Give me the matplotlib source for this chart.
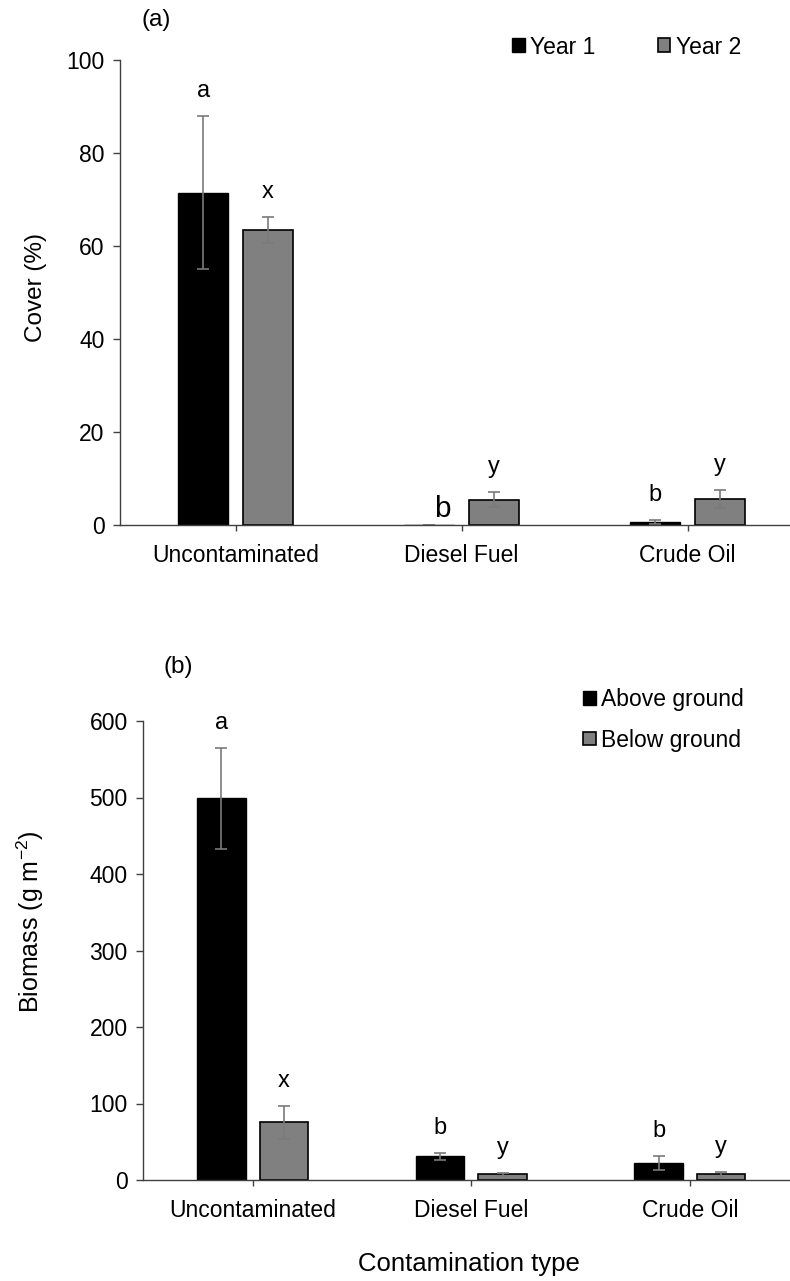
import numpy as np
import matplotlib
matplotlib.use("Agg")
import matplotlib.pyplot as plt

plt.rcParams['font.family'] = ['Liberation Sans', 'DejaVu Sans']
plt.rcParams['mathtext.fontset'] = 'custom'
plt.rcParams['mathtext.rm'] = 'Liberation Sans'
plt.rcParams['mathtext.it'] = 'Liberation Sans:italic'

categories = ['Uncontaminated', 'Diesel Fuel', 'Crude Oil']

# panel (a) cover %
cover_y1 = [71.5, 0.1, 0.7]
cover_y1_err = [16.5, 0.0, 0.4]
cover_y2 = [63.4, 5.4, 5.6]
cover_y2_err = [2.8, 1.6, 2.0]
cover_y1_letters = ['a', 'b', 'b']
cover_y2_letters = ['x', 'y', 'y']

# panel (b) biomass
above = [499, 30.9, 22.4]
above_err = [65.7, 5.0, 8.8]
below = [75.2, 7.5, 7.5]
below_err = [21.0, 2.0, 3.0]
above_letters = ['a', 'b', 'b']
below_letters = ['x', 'y', 'y']

W, H = 790, 1281
fig = plt.figure(figsize=(W / 100, H / 100), dpi=100)

gray = '#808080'
fs = 16.5
x = np.arange(len(categories))
bw = 0.222
off = 0.143


def style(ax):
    for s in ['top', 'right']:
        ax.spines[s].set_visible(False)
    for s in ['left', 'bottom']:
        ax.spines[s].set_color('#404040')
        ax.spines[s].set_linewidth(1.0)
    ax.tick_params(axis='y', direction='out', length=5, width=1, color='#404040', labelsize=fs, pad=6)
    ax.tick_params(axis='x', direction='out', length=4, width=1, color='#404040', labelsize=fs, pad=10)
    ax.set_xticks(x)
    ax.set_xticklabels(categories)


def bars(ax, v1, e1, v2, e2, l1, l2, lab1, lab2, big=None):
    ek = dict(ecolor='#7a7a7a', elinewidth=1.2, capsize=4, capthick=1.2)
    ax.bar(x - off, v1, bw, yerr=e1, color='black', edgecolor='black', linewidth=1, error_kw=ek, label=lab1, zorder=2)
    ax.bar(x + off, v2, bw, yerr=e2, color=gray, edgecolor='black', linewidth=1.2, error_kw=ek, label=lab2, zorder=2)
    for i in range(len(x)):
        if big is not None and i == big:
            ax.annotate(l1[i], (x[i] - off, v1[i] + e1[i]), xytext=(13, 16), textcoords='offset pixels',
                        ha='center', va='center', fontsize=fs * 1.3)
        else:
            ax.annotate(l1[i], (x[i] - off, v1[i] + e1[i]), xytext=(0, 25), textcoords='offset pixels',
                        ha='center', va='center', fontsize=17)
        ax.annotate(l2[i], (x[i] + off, v2[i] + e2[i]), xytext=(0, 25), textcoords='offset pixels',
                    ha='center', va='center', fontsize=17)


# ---- panel (a)
ax1 = fig.add_axes([120 / W, 1 - 525 / H, 1 - 120 / W, (525 - 60) / H])
bars(ax1, cover_y1, cover_y1_err, cover_y2, cover_y2_err, cover_y1_letters, cover_y2_letters,
     'Year 1', 'Year 2', big=1)
ax1.set_ylim(0, 100)
ax1.set_xlim(-0.511, 2.453)
ax1.set_yticks([0, 20, 40, 60, 80, 100])
style(ax1)
fig.text(36 / W, 1 - 288 / H, 'Cover (%)', fontsize=17.5, rotation=90, ha='center', va='center')
fig.text(156 / W, 1 - 20 / H, '(a)', fontsize=17.5, va='center', ha='center')
ax1.legend(loc='center left', bbox_to_anchor=(512 / W, 1 - 47 / H), bbox_transform=fig.transFigure,
           ncol=2, frameon=False, fontsize=fs, handlelength=0.55, handleheight=0.55, handletextpad=0.25,
           columnspacing=2.7, borderaxespad=0, borderpad=0)

# ---- panel (b)
ax2 = fig.add_axes([143 / W, 1 - 1180 / H, 1 - 143 / W, (1180 - 721) / H])
bars(ax2, above, above_err, below, below_err, above_letters, below_letters,
     'Above ground', 'Below ground')
ax2.set_ylim(0, 600)
ax2.set_xlim(-0.502, 2.458)
ax2.set_yticks([0, 100, 200, 300, 400, 500, 600])
style(ax2)
fig.text(30 / W, 1 - 922 / H, 'Biomass (g m$^{-2}$)', fontsize=18, rotation=90, ha='center', va='center')
fig.text(469 / W, 1 - 1264 / H, 'Contamination type', fontsize=18.5, ha='center', va='center')
fig.text(178 / W, 1 - 667 / H, '(b)', fontsize=17.5, va='center', ha='center')
ax2.legend(loc='center left', bbox_to_anchor=(583 / W, 1 - 720 / H), bbox_transform=fig.transFigure,
           ncol=1, frameon=False, fontsize=fs, handlelength=0.55, handleheight=0.55, handletextpad=0.25,
           labelspacing=0.75, borderaxespad=0, borderpad=0)

fig.savefig('out.png', dpi=100)
